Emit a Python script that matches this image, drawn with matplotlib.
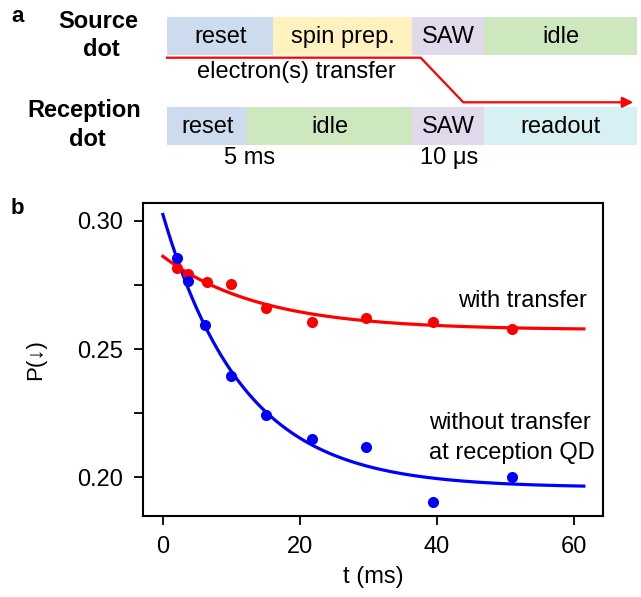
import numpy as np
import matplotlib
matplotlib.use("Agg")
import matplotlib.pyplot as plt
from matplotlib.patches import Rectangle, FancyArrowPatch

plt.rcParams['font.family'] = ['Liberation Sans', 'DejaVu Sans']

# ---------------- data ----------------
t_with = [2.0, 3.7, 6.4, 10.0, 15.0, 21.7, 29.7, 39.4, 50.9]
p_with = [0.2816, 0.2794, 0.2762, 0.2755, 0.2660, 0.2604, 0.2621, 0.2605, 0.2578]
t_without = [2.1, 3.6, 6.2, 9.9, 15.0, 21.7, 29.7, 39.4, 50.9]
p_without = [0.2855, 0.2764, 0.2595, 0.2397, 0.2243, 0.2150, 0.2117, 0.1904, 0.2002]

# exponential fit parameters: P = A + B*exp(-t/tau)
fit_with = dict(A=0.2575, B=0.0287, tau=14.2)
fit_without = dict(A=0.196, B=0.1065, tau=11.7)
fit_tmax = 61.4

source_labels = ["reset", "spin prep.", "SAW", "idle"]
source_colors = ["#CCDCEE", "#FFF2BF", "#E0D8EB", "#CDE8BE"]
reception_labels = ["reset", "idle", "SAW", "readout"]
reception_colors = ["#CCDCEE", "#CDE8BE", "#E0D8EB", "#D6F0F4"]

xticks = [0, 20, 40, 60]
yticks = [0.20, 0.25, 0.30]

# ---------------- figure ----------------
W, H = 641, 597
fig = plt.figure(figsize=(W / 100, H / 100), dpi=100)
FS = 17

# schematic overlay in pixel coordinates
sa = fig.add_axes([0, 0, 1, 1])
sa.set_xlim(0, W)
sa.set_ylim(H, 0)
sa.axis('off')

src_edges = [167.3, 273.3, 412.3, 484, 637]
rec_edges = [167.3, 247.3, 412.3, 484, 637]
src_y0, src_y1 = 17, 55
rec_y0, rec_y1 = 107.3, 145

for i, (lab, col) in enumerate(zip(source_labels, source_colors)):
    x0, x1 = src_edges[i], src_edges[i + 1]
    sa.add_patch(Rectangle((x0, src_y0), x1 - x0, src_y1 - src_y0, fc=col, ec='none'))
    sa.text((x0 + x1) / 2, (src_y0 + src_y1) / 2 + 1, lab, ha='center', va='center', fontsize=FS)
for i, (lab, col) in enumerate(zip(reception_labels, reception_colors)):
    x0, x1 = rec_edges[i], rec_edges[i + 1]
    sa.add_patch(Rectangle((x0, rec_y0), x1 - x0, rec_y1 - rec_y0, fc=col, ec='none'))
    sa.text((x0 + x1) / 2, (rec_y0 + rec_y1) / 2 + 1, lab, ha='center', va='center', fontsize=FS)

# transfer arrow
sa.plot([167, 420.7, 463.3, 624], [57.7, 57.7, 102.3, 102.3], color='red', lw=1.6, solid_joinstyle='miter')
sa.add_patch(FancyArrowPatch((620, 102.3), (636, 102.3), arrowstyle='-|>', mutation_scale=16,
                             color='red', lw=1.6))
sa.text(296, 72, "electron(s) transfer", ha='center', va='center', fontsize=FS)
sa.text(250, 158, "5 ms", ha='center', va='center', fontsize=FS)
sa.text(449, 158, "10 μs", ha='center', va='center', fontsize=FS)

sa.text(98, 21, "Source", ha='center', va='center', fontsize=FS, fontweight='bold')
sa.text(101, 50, "dot", ha='center', va='center', fontsize=FS, fontweight='bold')
sa.text(84, 110, "Reception", ha='center', va='center', fontsize=FS, fontweight='bold')
sa.text(87, 140, "dot", ha='center', va='center', fontsize=FS, fontweight='bold')
sa.text(18, 17, "a", ha='center', va='center', fontsize=16, fontweight='bold')
sa.text(17, 208, "b", ha='center', va='center', fontsize=16, fontweight='bold')

# ---------------- panel b ----------------
ax = fig.add_axes([143 / W, 1 - 516 / H, (603 - 143) / W, (516 - 203) / H])
ax.patch.set_alpha(0)

tt = np.linspace(0, fit_tmax, 300)
ax.plot(tt, fit_with['A'] + fit_with['B'] * np.exp(-tt / fit_with['tau']), color='red', lw=2.3, zorder=2)
ax.plot(tt, fit_without['A'] + fit_without['B'] * np.exp(-tt / fit_without['tau']), color='blue', lw=2.3, zorder=2)
ax.plot(t_with, p_with, 'o', color='red', ms=8, mec='none', zorder=3)
ax.plot(t_without, p_without, 'o', color='blue', ms=8, mec='none', zorder=3)

ax.set_xlim(-2.9, 64.2)
ax.set_ylim(0.1849, 0.307)
ax.set_xticks(xticks)
ax.set_yticks(yticks)
ax.set_yticklabels([f"{v:.2f}" for v in yticks])
ax.set_yticks([0.225, 0.275], minor=True)
ax.tick_params(axis='both', which='both', direction='out', length=6.5, width=1.3, labelsize=FS, pad=8)
for s in ax.spines.values():
    s.set_linewidth(1.5)

ax.set_xlabel("t (ms)", fontsize=FS, labelpad=6)
ax.set_ylabel("P(↓)", fontsize=FS - 1, labelpad=22)

ax.text(61.9, 0.2686, "with transfer", ha='right', va='center', fontsize=FS)
ax.text(38.8, 0.2211, "without transfer", ha='left', va='center', fontsize=FS)
ax.text(38.8, 0.2094, "at reception QD", ha='left', va='center', fontsize=FS)

fig.savefig("out.png", dpi=100)
